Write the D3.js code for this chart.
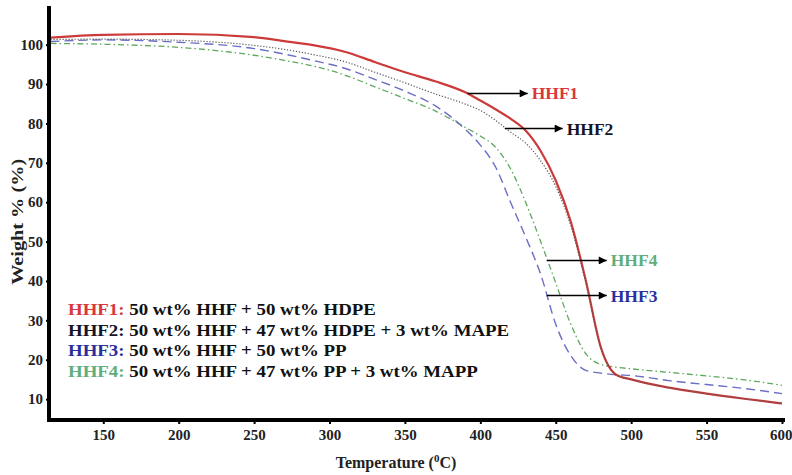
<!DOCTYPE html>
<html>
<head>
<meta charset="utf-8">
<script src="https://cdn.jsdelivr.net/npm/d3@7"></script>
<style>
  body { margin: 0; background: #fff; }
  text { font-family: "Liberation Serif", "Times New Roman", serif; font-weight: bold; }
</style>
</head>
<body>
<div id="tga"></div>
<script>
// temperatures (C) and weight %
var temps = [115, 150, 200, 250, 270, 290, 310, 330, 350, 370, 390, 400, 410, 420, 430, 440, 450, 460, 470, 480, 490, 500, 525, 550, 575, 600];
var hhf1 = [101.8, 102.5, 102.7, 101.9, 100.9, 99.8, 98.2, 95.6, 93.0, 90.7, 87.9, 85.8, 83.6, 81.2, 78.2, 73.0, 65.5, 55.0, 40.0, 23.0, 16.2, 15.0, 12.9, 11.4, 10.1, 8.9];
var hhf2 = [101.3, 101.4, 101.1, 99.8, 98.8, 97.4, 95.7, 93.0, 90.3, 87.5, 84.9, 83.3, 80.8, 77.8, 75.0, 70.5, 64.0, 54.0, 39.5, 23.0, 16.2, 15.0, 12.9, 11.4, 10.1, 8.9];
var hhf3 = [100.8, 101.2, 100.6, 99.0, 97.6, 95.9, 94.0, 91.2, 88.2, 84.5, 78.5, 74.5, 69.0, 60.0, 51.2, 41.7, 29.0, 21.0, 17.3, 16.6, 16.2, 16.0, 14.7, 13.7, 12.7, 11.4];
var hhf4 = [100.3, 100.1, 99.3, 97.3, 96.0, 94.5, 92.3, 89.3, 86.3, 83.2, 79.0, 76.8, 74.0, 68.5, 60.0, 50.0, 39.5, 29.0, 21.5, 18.8, 18.1, 17.7, 16.8, 15.9, 14.9, 13.5];

var xTicks = [150, 200, 250, 300, 350, 400, 450, 500, 550, 600];
var yTicks = [10, 20, 30, 40, 50, 60, 70, 80, 90, 100];

var legendNames = ["HHF1:", "HHF2:", "HHF3:", "HHF4:"];
var legendTexts = [" 50 wt% HHF + 50 wt% HDPE", " 50 wt% HHF + 47 wt% HDPE + 3 wt% MAPE", " 50 wt% HHF + 50 wt% PP", " 50 wt% HHF + 47 wt% PP + 3 wt% MAPP"];

// arrow callouts: label, start temp, end temp, weight level
var arrowLabels = ["HHF1", "HHF2", "HHF4", "HHF3"];
var arrowFrom = [391.6, 416.2, 444, 444];
var arrowTo = [431.4, 454.6, 483.8, 483.8];
var arrowAt = [87.6, 78.7, 45.2, 36.3];

var colors = {HHF1: "#d8373c", HHF2: "#15152a", HHF3: "#2b2f9c", HHF4: "#5fae7c"};

var margin = {top: 8, right: 7, bottom: 55, left: 49},
    width = 792 - margin.left - margin.right,
    height = 475 - margin.top - margin.bottom;

var svg = d3.select("#tga")
  .append("svg")
    .attr("width", 792)
    .attr("height", 475)
  .append("g")
    .attr("transform", "translate(" + margin.left + "," + margin.top + ")");

var x = d3.scaleLinear()
  .domain([114, 602])
  .range([0, width]);

var y = d3.scaleLinear()
  .domain([4.7, 109.3])
  .range([height, 0]);

// curves
var line = function(vals) {
  return d3.line()
    .x(function(d, i) { return x(temps[i]); })
    .y(function(d) { return y(d); })
    .curve(d3.curveMonotoneX)(vals);
};

svg.append("path").attr("d", line(hhf4))
  .attr("fill", "none").attr("stroke", "#5ea85e").attr("stroke-width", 1.3)
  .attr("stroke-dasharray", "6,3,1.5,3");
svg.append("path").attr("d", line(hhf3))
  .attr("fill", "none").attr("stroke", "#6a6ec4").attr("stroke-width", 1.4)
  .attr("stroke-dasharray", "9,5");
svg.append("path").attr("d", line(hhf1))
  .attr("fill", "none").attr("stroke", "#cc3a3a").attr("stroke-width", 2.2);
svg.append("path").attr("d", line(hhf2))
  .attr("fill", "none").attr("stroke", "#555").attr("stroke-width", 1.2)
  .attr("stroke-dasharray", "1.2,1.8");

// axes
var xAxis = svg.append("g")
  .attr("transform", "translate(0," + height + ")")
  .call(d3.axisBottom(x).tickValues(xTicks).tickSize(4).tickSizeOuter(0));
xAxis.selectAll("text").attr("y", 9).style("font-size", "15px").attr("fill", "#222");
// last label sits against the right edge
xAxis.selectAll("text").filter(function(d) { return d === 600; })
  .attr("text-anchor", "end").attr("x", 10);

var yAxis = svg.append("g")
  .call(d3.axisLeft(y).tickValues(yTicks).tickSize(3).tickPadding(3).tickSizeOuter(0));
yAxis.selectAll("text").style("font-size", "15px").attr("fill", "#222");

svg.selectAll(".tick line").attr("stroke-width", 2);
svg.selectAll(".domain").attr("stroke-width", 4).attr("stroke-linecap", "square");
yAxis.select(".domain").attr("d", "M0," + height + "V0");
xAxis.select(".domain").attr("d", "M0,0H" + (width - 2));

// axis titles
var xt = svg.append("text")
  .attr("x", 347).attr("y", 460)
  .attr("text-anchor", "middle")
  .style("font-size", "16px").attr("fill", "#222");
xt.append("tspan").text("Temperature (");
xt.append("tspan").text("0").style("font-size", "11px").attr("dy", -6);
xt.append("tspan").text("C)").attr("dy", 6);

svg.append("text")
  .attr("transform", "translate(-26," + y(55) + ") rotate(-90)")
  .attr("text-anchor", "middle")
  .attr("textLength", 126).attr("lengthAdjust", "spacingAndGlyphs")
  .style("font-size", "17px").attr("fill", "#222")
  .text("Weight % (%)");

// arrows
svg.append("defs").append("marker")
  .attr("id", "head")
  .attr("viewBox", "0 0 10 10")
  .attr("refX", 10).attr("refY", 5)
  .attr("markerWidth", 11).attr("markerHeight", 8)
  .attr("markerUnits", "userSpaceOnUse")
  .attr("orient", "auto")
  .append("path").attr("d", "M0,0L10,5L0,10Z").attr("fill", "#000");

arrowLabels.forEach(function(lab, i) {
  svg.append("line")
    .attr("x1", x(arrowFrom[i])).attr("x2", x(arrowTo[i]))
    .attr("y1", y(arrowAt[i])).attr("y2", y(arrowAt[i]))
    .attr("stroke", "#000").attr("stroke-width", 1.5)
    .attr("marker-end", "url(#head)");
  svg.append("text")
    .attr("x", x(arrowTo[i]) + 4).attr("y", y(arrowAt[i]) + 6)
    .style("font-size", "17.5px")
    .attr("fill", colors[lab])
    .text(lab);
});

// legend text, a bit stretched sideways like the original
var legend = svg.append("g")
  .attr("transform", "translate(19,0) scale(1.11,1)");
legendNames.forEach(function(n, i) {
  var t = legend.append("text")
    .attr("x", 0).attr("y", 307 + i * 20.7)
    .style("font-size", "17px");
  t.append("tspan").text(n).attr("fill", colors[n.replace(":", "")]);
  t.append("tspan").text(legendTexts[i]).attr("fill", "#111").attr("xml:space", "preserve");
});
</script>
</body>
</html>
